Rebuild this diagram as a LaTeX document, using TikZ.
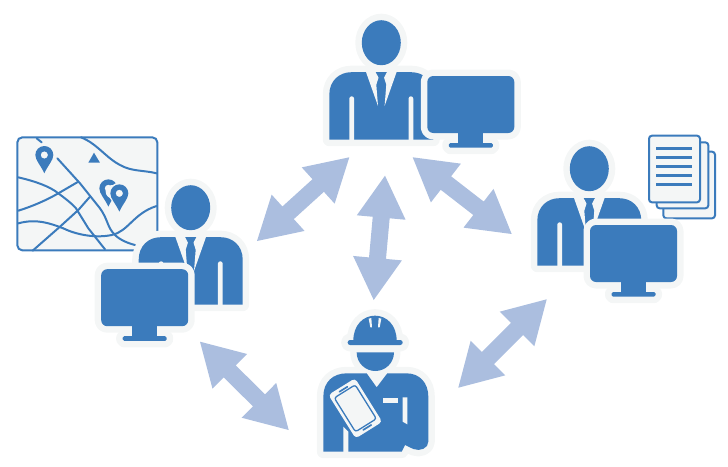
\documentclass[tikz,border=0pt]{standalone}
\usetikzlibrary{calc}
\definecolor{mblue}{HTML}{3B7BBC}
\definecolor{halo}{HTML}{F4F6F6}
\definecolor{arrowc}{HTML}{ABBEDF}
\tikzset{
  haloline/.style={draw=halo,fill=halo,line width=13pt,line join=round},
  bluefill/.style={fill=mblue,draw=none},
  halofill/.style={fill=halo,draw=none},
  road/.style={draw=mblue,line width=2pt,line cap=round},
  zoomed/.style={x=0.33333pt,y=-0.33333pt},
  sheet/.style={draw=mblue,fill=halo,line width=2pt,rounded corners=3pt},
}
\newcommand\bodypath{(-52,97) -- (-52,52) .. controls (-52,38) and (-42,29.5) .. (-30,29.5) -- (30,29.5) .. controls (42,29.5) and (52,38) .. (52,52) -- (52,97) -- cycle}
\newcommand\personfig[2]{%
  \begin{scope}[shift={(#1,#2)}]
    \path[haloline] (0,0) ellipse [x radius=19.5,y radius=22.5];
    \path[haloline] \bodypath;
    \path[bluefill] (0,0) ellipse [x radius=19.5,y radius=22.5];
    \path[bluefill] \bodypath;
    \path[halofill] (-15.3,29.3) -- (-5.7,29.3) -- (-2.8,35) -- (-5,42) -- (-3.3,63.3) -- cycle;
    \path[halofill] (15.3,29.3) -- (5.7,29.3) -- (2.8,35) -- (5,42) -- (3.3,63.3) -- cycle;
    \path[halofill] (-32,98) -- (-32,56) arc [start angle=180,end angle=360,radius=2.4] -- (-27.2,98) -- cycle;
    \path[halofill] (27.2,98) -- (27.2,56) arc [start angle=180,end angle=360,radius=2.4] -- (32,98) -- cycle;
  \end{scope}}
\newcommand\screenpath{[rounded corners=6pt] (0,0) rectangle (87,57)}
\newcommand\standpath{(31,56) rectangle (56,68)}
\newcommand\basepath{[rounded corners=1.5pt] (21.5,67) rectangle (65.5,71.7)}
\newcommand\monitorfig[2]{%
  \begin{scope}[shift={(#1,#2)}]
    \path[haloline] \screenpath;
    \path[haloline] \standpath;
    \path[haloline] \basepath;
    \path[bluefill] \screenpath;
    \path[bluefill] \standpath;
    \path[bluefill] \basepath;
  \end{scope}}
\newcommand\dblarrow[2]{%
  \fill[arrowc] (#1)
    -- ($(#1)!42pt!(#2)!24.5pt!90:(#2)$)
    -- ($(#1)!42pt!(#2)!8.5pt!90:(#2)$)
    -- ($(#2)!42pt!(#1)!8.5pt!-90:(#1)$)
    -- ($(#2)!42pt!(#1)!24.5pt!-90:(#1)$)
    -- (#2)
    -- ($(#2)!42pt!(#1)!24.5pt!90:(#1)$)
    -- ($(#2)!42pt!(#1)!8.5pt!90:(#1)$)
    -- ($(#1)!42pt!(#2)!8.5pt!-90:(#2)$)
    -- ($(#1)!42pt!(#2)!24.5pt!-90:(#2)$)
    -- cycle;}
\newcommand\mappin[2]{%
  \begin{scope}[shift={(#1,#2)}]
    \path[even odd rule,fill=mblue] (0,55) .. controls (-10,32) and (-27,16) .. (-27,0)
      .. controls (-27,-15) and (-15,-27) .. (0,-27)
      .. controls (15,-27) and (27,-15) .. (27,0)
      .. controls (27,16) and (10,32) .. (0,55) -- cycle
      (0,-11) .. controls (-6,-11) and (-11,-6) .. (-11,0)
      .. controls (-11,6) and (-6,11) .. (0,11)
      .. controls (6,11) and (11,6) .. (11,0)
      .. controls (11,-6) and (6,-11) .. (0,-11) -- cycle;
  \end{scope}}
\begin{document}
\begin{tikzpicture}[x=1pt,y=-1pt]
\useasboundingbox (0,0) rectangle (728,466);
% arrows
\coordinate (a1) at (349.3,157.3); \coordinate (b1) at (257,241);
\coordinate (a2) at (385,175.7);   \coordinate (b2) at (373.7,300);
\coordinate (a3) at (412.7,157.3); \coordinate (b3) at (511.7,234);
\coordinate (a4) at (546.7,299.3); \coordinate (b4) at (458.3,387.7);
\coordinate (a5) at (200,341.7);   \coordinate (b5) at (288.7,430);
\dblarrow{a1}{b1}\dblarrow{a2}{b2}\dblarrow{a3}{b3}\dblarrow{a4}{b4}\dblarrow{a5}{b5}
% map
\begin{scope}[shift={(0pt,-120pt)},zoomed]
  \draw[draw=mblue,fill=halo,line width=2pt,rounded corners=5pt] (52,52) rectangle (472,391);
  \draw[road] (110,55) -- (125,67);
  \draw[road] (243,52) .. controls (290,70) and (320,115) .. (360,135) .. controls (395,155) and (430,150) .. (470,160);
  \draw[road] (172,115) -- (240,190) -- (300,265) .. controls (325,300) and (320,320) .. (345,345) .. controls (360,360) and (385,370) .. (405,375);
  \draw[road] (55,172) .. controls (110,185) and (150,200) .. (175,220) .. controls (195,235) and (215,250) .. (228,265) -- (265,325) -- (315,388);
  \draw[road] (55,272) .. controls (100,258) and (140,240) .. (175,220) -- (235,185);
  \draw[road] (98,392) -- (180,320) -- (235,270) -- (270,230);
  \draw[road] (55,310) .. controls (110,295) and (150,310) .. (190,325) .. controls (230,345) and (290,355) .. (335,345) .. controls (385,335) and (400,280) .. (470,258);
  \fill[mblue] (265,128) -- (300,128) -- (282,98) -- cycle;
  \mappin{133}{105}
  \mappin{325}{205}
  \fill[halo] (337,215) circle [radius=20];
  \path[fill=halo] (358,220) circle [radius=32];
  \mappin{358}{220}
\end{scope}
% document stack
\begin{scope}[shift={(520pt,-125pt)},zoomed]
  \draw[sheet] (430,80) rectangle (585,280);
  \draw[sheet] (410,52) rectangle (565,250);
  \draw[sheet] (387,32) rectangle (540,232);
  \foreach \ly in {70,97,124,151,178}
    \fill[mblue] (408,\ly-4) rectangle (515,\ly+4);
\end{scope}
% persons
\personfig{381.3}{42.7}
\monitorfig{427.3}{76}
\personfig{190.7}{207.7}
\monitorfig{101.2}{269.2}
\personfig{589.3}{168.7}
\monitorfig{590}{225}
% worker
\begin{scope}[shift={(300pt,-300pt)},zoomed]
  \def\hatp{(160,122) .. controls (160,75) and (190,47) .. (225,47) .. controls (260,47) and (290,75) .. (290,122) -- cycle}
  \def\brimp{[rounded corners=2.4pt] (143,120) rectangle (308,135)}
  \def\facep{(170,157) -- (282,157) .. controls (282,190) and (255,213) .. (226,213) .. controls (197,213) and (170,190) .. (170,157) -- cycle}
  \def\wbody{(70,455) -- (70,290) .. controls (70,245) and (100,220) .. (140,220) -- (200,220) -- (230,262) -- (262,220) -- (320,220) .. controls (360,220) and (385,250) .. (385,290) -- (385,425) .. controls (385,445) and (360,455) .. (340,447) -- (315,435) -- (305,455) -- cycle}
  \path[haloline] \hatp; \path[haloline] \brimp; \path[haloline] \facep; \path[haloline] \wbody;
  \path[bluefill] \hatp; \path[bluefill] \brimp; \path[bluefill] \facep; \path[bluefill] \wbody;
  \path[halofill] (206,56) -- (214,54) -- (216,82) -- (211,82) -- cycle;
  \path[halofill] (236,54) -- (244,56) -- (239,82) -- (234,82) -- cycle;
  \path[halofill] (130,380) -- (145,395) -- (145,456) -- (130,456) -- cycle;
  \path[halofill] (248,295) rectangle (295,308);
  \path[halofill] (308,292) -- (322,292) -- (322,373) -- (308,365) -- cycle;
  \begin{scope}[shift={(166,325)},rotate=32]
    \path[fill=halo,rounded corners=3.5pt] (-47,-77) rectangle (47,77);
    \draw[draw=mblue,line width=1.3pt,rounded corners=2.5pt] (-37,-60) rectangle (37,60);
    \path[fill=halo,rounded corners=1pt] (-32,-55) rectangle (32,55);
    \path[fill=mblue,rounded corners=0.6pt] (-16,-70) rectangle (16,-65);
    \path[fill=mblue,rounded corners=0.6pt] (-16,65) rectangle (16,70);
  \end{scope}
\end{scope}
\end{tikzpicture}
\end{document}
